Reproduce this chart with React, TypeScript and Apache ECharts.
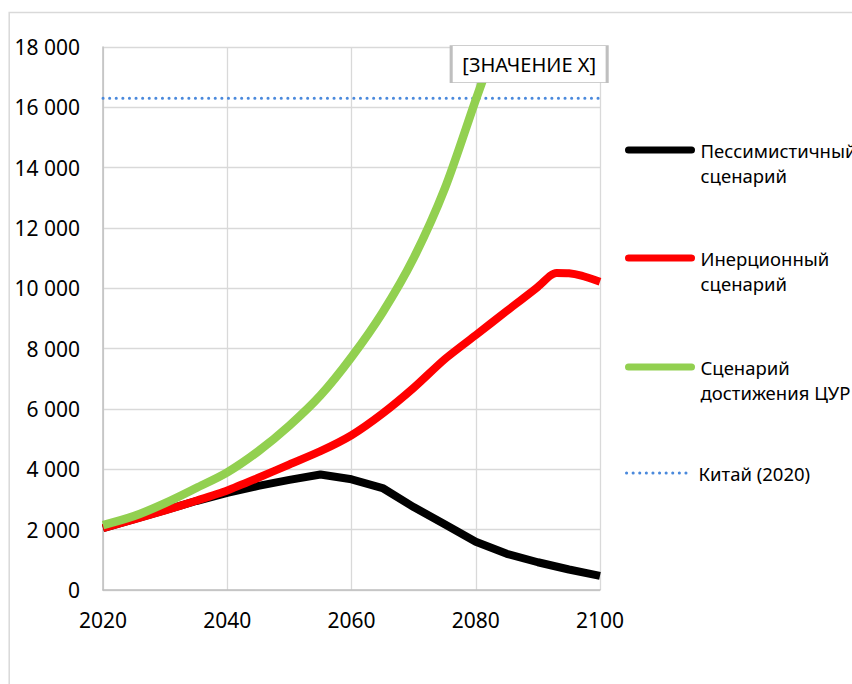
import React, { useEffect, useRef } from "react";
import * as echarts from "echarts";

// Shared years (5-year steps)
const years = [2020, 2025, 2030, 2035, 2040, 2045, 2050, 2055, 2060, 2065, 2070, 2075, 2080, 2085, 2090, 2095, 2100];

// Pessimistic scenario
const pessimisticValues = [2050, 2350, 2650, 2950, 3220, 3450, 3650, 3830, 3670, 3380, 2750, 2180, 1600, 1200, 920, 680, 470];

// Inertial scenario (with extra points near the peak)
const inertialYears = [2020, 2025, 2030, 2035, 2040, 2045, 2050, 2055, 2060, 2065, 2070, 2075, 2080, 2085, 2090, 2092, 2093, 2095, 2097, 2100];
const inertialValues = [2050, 2340, 2640, 2960, 3300, 3720, 4160, 4600, 5130, 5850, 6700, 7650, 8450, 9250, 10050, 10420, 10510, 10500, 10420, 10220];

// SDG achievement scenario
const sdgYears = [2020, 2025, 2030, 2035, 2040, 2045, 2050, 2055, 2060, 2065, 2070, 2075, 2080, 2082];
const sdgValues = [2150, 2450, 2880, 3380, 3900, 4600, 5450, 6450, 7720, 9200, 11000, 13300, 16250, 17400];

// China (2020) reference level
const chinaYears = [2020, 2100];
const chinaValues = [16300, 16300];

const seriesNames = [
  "Пессимистичный\nсценарий",
  "Инерционный\nсценарий",
  "Сценарий\nдостижения ЦУР",
  "Китай (2020)",
];
const labelText = "[ЗНАЧЕНИЕ X]";

const xTicks = { min: 2020, max: 2100, interval: 20 };
const yTicks = { min: 0, max: 18000, interval: 2000 };

const FONT = "'Noto Sans', 'Open Sans', sans-serif";

const pairs = (xs: number[], ys: number[]) => xs.map((x, i) => [x, ys[i]]);
const fmt = (v: number) => String(v).replace(/\B(?=(\d{3})+(?!\d))/g, " ");

export default function App() {
  const ref = useRef<HTMLDivElement>(null);

  useEffect(() => {
    if (!ref.current) return;
    const chart = echarts.init(ref.current, undefined, { renderer: "svg" });

    const legendBase = {
      orient: "vertical" as const,
      left: 625,
      padding: 0,
      itemWidth: 63,
      itemHeight: 10,
      selectedMode: false,
      itemStyle: { opacity: 0 },
      textStyle: { fontFamily: FONT, fontSize: 18.5, lineHeight: 25, color: "#000", padding: [0, 0, 0, 4] },
    };

    const lastSdg = [sdgYears[sdgYears.length - 1], sdgValues[sdgValues.length - 1]];

    chart.setOption({
      animation: false,
      backgroundColor: "#fff",
      grid: { left: 103, right: 252, top: 47, bottom: 94, containLabel: false },
      xAxis: {
        type: "value",
        min: xTicks.min,
        max: xTicks.max,
        interval: xTicks.interval,
        axisLine: { show: true, lineStyle: { color: "#bfbfbf", width: 1.5 } },
        axisTick: { show: false },
        splitLine: { show: true, lineStyle: { color: "#d9d9d9", width: 1.3 } },
        axisLabel: { fontFamily: FONT, fontSize: 21, color: "#000", margin: 19, formatter: (v: number) => String(v) },
      },
      yAxis: {
        type: "value",
        min: yTicks.min,
        max: yTicks.max,
        interval: yTicks.interval,
        axisLine: { show: true, lineStyle: { color: "#bfbfbf", width: 1.5 } },
        axisTick: { show: false },
        splitLine: { show: true, lineStyle: { color: "#d9d9d9", width: 1.3 } },
        axisLabel: { fontFamily: FONT, fontSize: 21, color: "#000", margin: 23, formatter: (v: number) => fmt(v) },
      },
      legend: [
        { ...legendBase, top: 112.5, data: [seriesNames[0]], formatter: (n: string) => "\n" + n, lineStyle: { width: 7, cap: "round" } },
        { ...legendBase, top: 220.5, data: [seriesNames[1]], formatter: (n: string) => "\n" + n, lineStyle: { width: 7, cap: "round" } },
        { ...legendBase, top: 329.5, data: [seriesNames[2]], formatter: (n: string) => "\n" + n, lineStyle: { width: 7, cap: "round" } },
        { ...legendBase, top: 460.5, data: [seriesNames[3]], lineStyle: { width: 3, type: [0.1, 6.5], cap: "round" } },
      ],
      graphic: [
        {
          type: "rect",
          shape: { x: 9.2, y: 12.5, width: 1000, height: 1000 },
          style: { fill: "none", stroke: "#d9d9d9", lineWidth: 1.5 },
          silent: true,
          z: -1,
        },
      ],
      series: [
        {
          name: seriesNames[0],
          type: "line",
          data: pairs(years, pessimisticValues),
          symbol: "none",
          lineStyle: { color: "#000", width: 8, join: "round" },
          itemStyle: { color: "#000" },
          z: 2,
        },
        {
          name: seriesNames[1],
          type: "line",
          data: pairs(inertialYears, inertialValues),
          symbol: "none",
          smooth: 0.25,
          lineStyle: { color: "#ff0000", width: 8, join: "round" },
          itemStyle: { color: "#ff0000" },
          z: 3,
        },
        {
          name: seriesNames[2],
          type: "line",
          data: pairs(sdgYears, sdgValues),
          symbol: "none",
          smooth: 0.3,
          lineStyle: { color: "#92d050", width: 8.5, join: "round" },
          itemStyle: { color: "#92d050" },
          z: 4,
          markPoint: {
            symbol: "rect",
            symbolSize: [156, 37],
            symbolOffset: [41, -1],
            silent: true,
            itemStyle: { color: "#fff", borderColor: "#bfbfbf", borderWidth: 1.5 },
            label: { show: true, position: "inside", formatter: labelText, color: "#000", fontFamily: FONT, fontSize: 20 },
            data: [{ coord: lastSdg }],
          },
        },
        {
          name: seriesNames[3],
          type: "line",
          data: pairs(chinaYears, chinaValues),
          symbol: "none",
          lineStyle: { color: "#4a89dc", width: 3, type: [0.1, 6.5], cap: "round" },
          itemStyle: { color: "#4a89dc" },
          z: 1,
        },
      ],
    });

    return () => chart.dispose();
  }, []);

  return <div ref={ref} style={{ position: "fixed", left: 0, top: 0, width: 852, height: 684 }} />;
}
